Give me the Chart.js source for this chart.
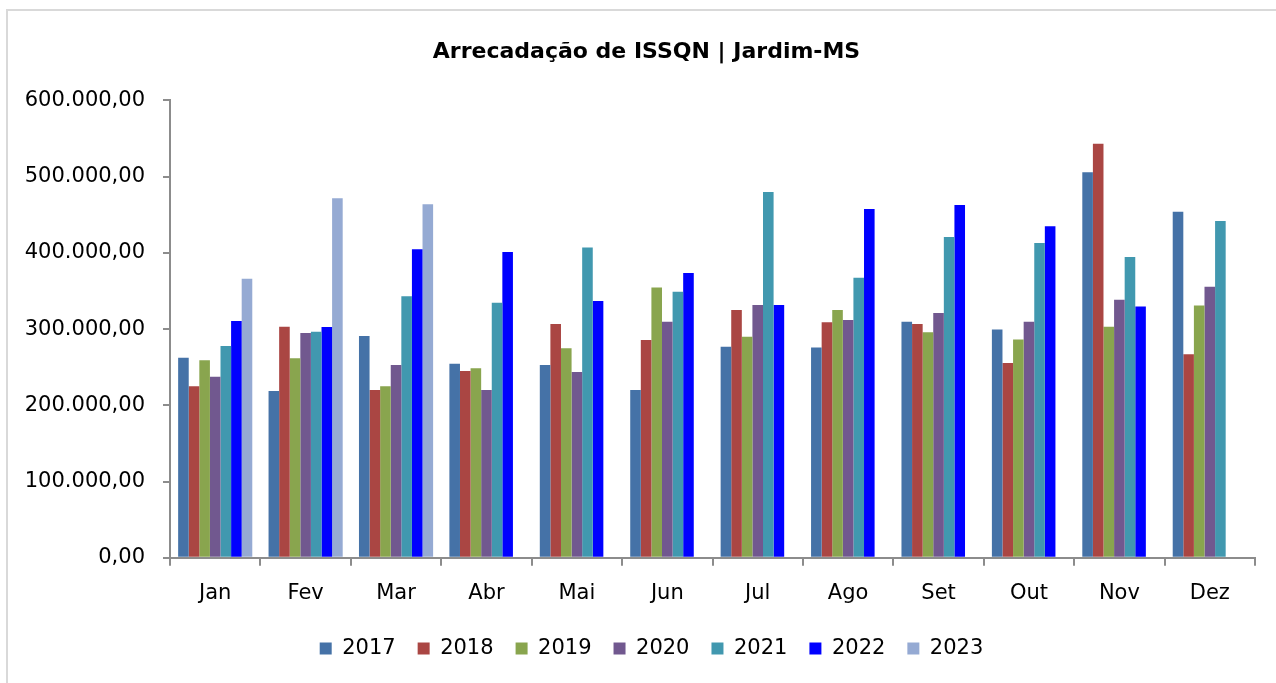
<!DOCTYPE html>
<html lang="pt-BR">
<head>
<meta charset="utf-8">
<title>Arrecadação de ISSQN | Jardim-MS</title>
<script src="https://cdn.jsdelivr.net/npm/chart.js@4.4.1/dist/chart.umd.min.js"></script>
<style>
  html, body { margin: 0; padding: 0; background: #fff; }
  .wrap { position: relative; width: 1276px; height: 683px; overflow: hidden; }
  .frame { position: absolute; left: 6px; top: 9px; width: 1290px; height: 700px;
           border: 2px solid #d9d9d9; box-sizing: border-box; }
  .box { position: absolute; left: 0; top: 0; width: 1276px; height: 683px; }
</style>
</head>
<body>
<div class="wrap">
  <div class="frame"></div>
  <div class="box"><canvas id="issqn"></canvas></div>
</div>
<script>
const meses = ["Jan", "Fev", "Mar", "Abr", "Mai", "Jun", "Jul", "Ago", "Set", "Out", "Nov", "Dez"];
const anos = ["2017", "2018", "2019", "2020", "2021", "2022", "2023"];

const v2017 = [262500, 218700, 291000, 254600, 252800, 220000, 277000, 276000, 309700, 299600, 505700, 454000];
const v2018 = [225000, 303000, 220000, 245000, 306700, 285600, 325000, 309000, 306700, 255500, 543000, 267000];
const v2019 = [259000, 261600, 225000, 248500, 275000, 354700, 290000, 325000, 296000, 286500, 303000, 331000];
const v2020 = [237500, 295000, 253000, 220000, 243600, 309700, 331600, 312000, 321000, 309700, 338600, 355600];
const v2021 = [277800, 296600, 343000, 334600, 407000, 349000, 480000, 367500, 420800, 413000, 394600, 441800];
const v2022 = [310600, 302700, 404600, 401000, 336800, 373600, 331600, 457600, 462800, 435000, 329800, null];
const v2023 = [366000, 471500, 463700, null, null, null, null, null, null, null, null, null];

const series = [v2017, v2018, v2019, v2020, v2021, v2022, v2023];
const cores = ["#4572A7", "#AA4643", "#89A54E", "#71588F", "#4198AF", "#0000FF", "#95AAD3"];

// 600000 -> "600.000,00"
const formatBR = (v) => {
    const inteiro = Math.round(v).toString().replace(/\B(?=(\d{3})+(?!\d))/g, ".");
    return inteiro + ",00";
};

const fonte = "'DejaVu Sans', sans-serif";

// title and legend sit a bit right of the canvas centre in the original
const deslocar = {
    id: "deslocar",
    afterLayout(chart) {
        const mover = (box, dx) => {
            if (!box) return;
            box.left += dx;
            box.right += dx;
        };
        mover(chart.titleBlock, 15);
        mover(chart.legend, 20);
    },
};

new Chart(document.getElementById("issqn"), {
    type: "bar",
    data: {
        labels: meses,
        datasets: anos.map((a, i) => ({
            label: a,
            data: series[i],
            backgroundColor: cores[i],
            borderWidth: 0,
            categoryPercentage: 0.82,
            barPercentage: 1.0,
        })),
    },
    plugins: [deslocar],
    options: {
        responsive: true,
        maintainAspectRatio: false,
        animation: false,
        layout: {
            padding: { left: 8, right: 21, top: 39, bottom: 14 },
        },
        plugins: {
            title: {
                display: true,
                text: "Arrecadação de ISSQN | Jardim-MS",
                color: "#000",
                font: { family: fonte, size: 22, weight: "bold" },
                padding: { top: 0, bottom: 35 },
            },
            legend: {
                position: "bottom",
                labels: {
                    color: "#000",
                    font: { family: fonte, size: 21 },
                    boxWidth: 12,
                    boxHeight: 12,
                    padding: 22,
                },
            },
            tooltip: { enabled: false },
        },
        scales: {
            x: {
                afterFit: (s) => { s.height -= 5; },
                grid: {
                    drawOnChartArea: false,
                    drawTicks: true,
                    tickLength: 8,
                    color: "#8c8c8c",
                    lineWidth: 2,
                },
                border: { color: "#8c8c8c", width: 2 },
                ticks: {
                    color: "#000",
                    font: { family: fonte, size: 21 },
                    padding: 15,
                },
            },
            y: {
                min: 0,
                max: 600000,
                afterFit: (s) => { s.width = 162; },
                grid: {
                    drawOnChartArea: false,
                    drawTicks: true,
                    tickLength: 7,
                    color: "#8c8c8c",
                    lineWidth: 2,
                },
                border: { color: "#8c8c8c", width: 2 },
                ticks: {
                    stepSize: 100000,
                    color: "#000",
                    font: { family: fonte, size: 21 },
                    padding: 18,
                    callback: (v) => formatBR(v),
                },
            },
        },
    },
});
</script>
</body>
</html>
